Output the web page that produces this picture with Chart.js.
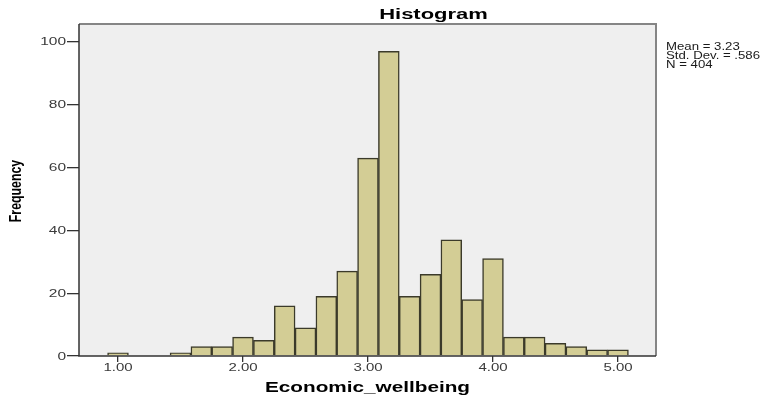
<!DOCTYPE html>
<html>
<head>
<meta charset="utf-8">
<script src="https://cdn.jsdelivr.net/npm/chart.js@4.4.1/dist/chart.umd.min.js"></script>
<style>
html,body{margin:0;padding:0;background:#fff;}
#wrap{width:778px;height:395px;position:relative;}
</style>
</head>
<body>
<div id="wrap"><canvas id="c" width="778" height="395"></canvas></div>
<script>
// Bin centres (Economic_wellbeing) and frequencies
const binCenters = [1.0, 1.5, 1.6667, 1.8333, 2.0, 2.1667, 2.3333, 2.5, 2.6667, 2.8333, 3.0, 3.1667, 3.3333, 3.5, 3.6667, 3.8333, 4.0, 4.1667, 4.3333, 4.5, 4.6667, 4.8333, 5.0];
const frequencies = [1, 1, 3, 3, 6, 5, 16, 9, 19, 27, 63, 97, 19, 26, 37, 18, 31, 6, 6, 4, 3, 2, 2];
const xTickValues = [1, 2, 3, 4, 5];
const yTickValues = [0, 20, 40, 60, 80, 100];
const titleText = "Histogram";
const xTitle = "Economic_wellbeing";
const yTitle = "Frequency";
const statsLines = ["Mean = 3.23", "Std. Dev. = .586", "N = 404"];

const points = binCenters.map((x, i) => ({x: x, y: frequencies[i]}));
const FONT = '"Liberation Sans", Arial, sans-serif';

function stretchText(ctx, text, x, y, sx, align) {
  ctx.save();
  ctx.translate(x, y);
  ctx.scale(sx, 1);
  ctx.textAlign = align;
  ctx.fillText(text, 0, 0);
  ctx.restore();
}

const decor = {
  id: 'decor',
  beforeDraw(chart) {
    const {ctx, chartArea: a} = chart;
    ctx.save();
    ctx.fillStyle = '#efefef';
    ctx.fillRect(a.left, a.top, a.right - a.left, a.bottom - a.top);
    ctx.restore();
  },
  afterDraw(chart) {
    const {ctx, chartArea: a} = chart;
    const xs = chart.scales.x, ys = chart.scales.y;
    ctx.save();
    // frame
    ctx.strokeStyle = '#858585';
    ctx.lineWidth = 2;
    ctx.beginPath();
    ctx.moveTo(a.left, a.top);
    ctx.lineTo(a.right, a.top);
    ctx.lineTo(a.right, a.bottom);
    ctx.stroke();
    ctx.strokeStyle = '#333';
    ctx.lineWidth = 1.5;
    ctx.beginPath();
    ctx.moveTo(a.left, a.top);
    ctx.lineTo(a.left, a.bottom);
    ctx.lineTo(a.right, a.bottom);
    ctx.stroke();
    // tick labels
    ctx.fillStyle = '#3a3a3a';
    ctx.font = '10px ' + FONT;
    ctx.textBaseline = 'alphabetic';
    xs.ticks.forEach(t => {
      stretchText(ctx, Number(t.value).toFixed(2), xs.getPixelForValue(t.value), 371, 1.5, 'center');
    });
    ys.ticks.forEach(t => {
      stretchText(ctx, String(t.value), 66, ys.getPixelForValue(t.value) + 3.5, 1.55, 'right');
    });
    // title
    ctx.fillStyle = '#000';
    ctx.font = 'bold 14px ' + FONT;
    stretchText(ctx, titleText, 433.5, 19, 1.57, 'center');
    // x title
    ctx.font = 'bold 14px ' + FONT;
    stretchText(ctx, xTitle, (a.left + a.right) / 2, 392, 1.48, 'center');
    // y title
    ctx.save();
    ctx.translate(21, 191);
    ctx.rotate(-Math.PI / 2);
    ctx.scale(0.77, 1);
    ctx.font = 'bold 16px ' + FONT;
    ctx.textAlign = 'center';
    ctx.fillText(yTitle, 0, 0);
    ctx.restore();
    // stats
    ctx.font = '11px ' + FONT;
    ctx.fillStyle = '#1a1a1a';
    statsLines.forEach((s, i) => stretchText(ctx, s, 666, 50 + i * 9, 1.2, 'left'));
    ctx.restore();
  }
};

new Chart(document.getElementById('c'), {
  type: 'bar',
  data: {
    datasets: [{
      data: points,
      backgroundColor: '#d3cd95',
      borderColor: '#3b3a2a',
      borderWidth: 1.5,
      barPercentage: 1,
      categoryPercentage: 1,
      borderSkipped: 'bottom'
    }]
  },
  options: {
    responsive: false,
    animation: false,
    layout: {padding: {left: 0, top: 24, right: 122, bottom: 0}},
    plugins: {legend: {display: false}, tooltip: {enabled: false}},
    scales: {
      x: {
        type: 'linear',
        offset: false,
        min: 0.688,
        max: 5.304,
        afterBuildTicks: s => { s.ticks = xTickValues.map(v => ({value: v})); },
        afterFit: s => { s.height = 39; },
        grid: {offset: false, drawOnChartArea: false, drawTicks: true, tickLength: 6, color: '#333', lineWidth: 1.3},
        border: {display: false},
        ticks: {
          callback: v => Number(v).toFixed(2),
          color: 'rgba(0,0,0,0)',
          font: {family: FONT, size: 10},
          padding: 2,
          maxRotation: 0
        }
      },
      y: {
        type: 'linear',
        min: 0,
        max: 105.7,
        afterBuildTicks: s => { s.ticks = yTickValues.map(v => ({value: v})); },
        afterFit: s => { s.width = 79; },
        grid: {drawOnChartArea: false, drawTicks: true, tickLength: 12, color: '#333', lineWidth: 1.3},
        border: {display: false},
        ticks: {
          color: 'rgba(0,0,0,0)',
          font: {family: FONT, size: 10},
          padding: 3
        }
      }
    }
  },
  plugins: [decor]
});
</script>
</body>
</html>
